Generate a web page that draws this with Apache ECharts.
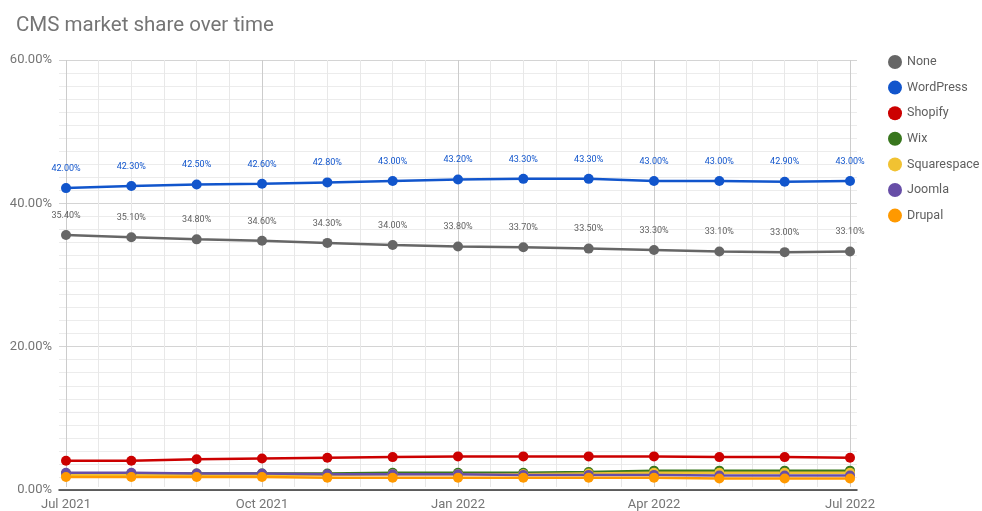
<!DOCTYPE html>
<html>
<head>
<meta charset="utf-8">
<script src="https://cdn.jsdelivr.net/npm/echarts@6/dist/echarts.min.js"></script>
<style>
html,body{margin:0;padding:0;background:#fff;}
#chart{width:982px;height:511px;}
</style>
</head>
<body>
<div id="chart"></div>
<script>
const months = ['Jul 2021','Aug 2021','Sep 2021','Oct 2021','Nov 2021','Dec 2021','Jan 2022','Feb 2022','Mar 2022','Apr 2022','May 2022','Jun 2022','Jul 2022'];
const tickLabels = {0:'Jul 2021',3:'Oct 2021',6:'Jan 2022',9:'Apr 2022',12:'Jul 2022'};
const yTicks = [0, 20, 40, 60];

const seriesNames = ['None','WordPress','Shopify','Wix','Squarespace','Joomla','Drupal'];
const none        = [35.4,35.1,34.8,34.6,34.3,34.0,33.8,33.7,33.5,33.3,33.1,33.0,33.1];
const wordpress   = [42.0,42.3,42.5,42.6,42.8,43.0,43.2,43.3,43.3,43.0,43.0,42.9,43.0];
const shopify     = [3.7,3.7,3.9,4.0,4.1,4.2,4.3,4.3,4.3,4.3,4.2,4.2,4.1];
const wix         = [1.9,1.9,1.9,1.9,1.9,2.0,2.0,2.0,2.1,2.3,2.3,2.3,2.3];
const squarespace = [1.7,1.7,1.7,1.7,1.7,1.8,1.8,1.8,1.9,2.0,2.0,2.0,2.0];
const joomla      = [2.0,2.0,1.9,1.9,1.8,1.8,1.8,1.7,1.7,1.7,1.6,1.6,1.6];
const drupal      = [1.4,1.4,1.4,1.4,1.3,1.3,1.3,1.3,1.3,1.3,1.2,1.2,1.2];
const values = [none, wordpress, shopify, wix, squarespace, joomla, drupal];
const colors = ['#666666','#1155cc','#cc0000','#38761d','#f1c232','#674ea7','#ff9900'];
const labelled = {None:true, WordPress:true};

const FONT = 'Roboto, "Noto Sans", sans-serif';
const chart = echarts.init(document.getElementById('chart'), null, {renderer:'canvas'});

const series = seriesNames.map((name, si) => ({
  name,
  type: 'line',
  xAxisIndex: 1,
  yAxisIndex: 1,
  data: values[si].map((v, i) => [i, v]),
  symbol: 'circle',
  symbolSize: 10,
  itemStyle: {color: colors[si]},
  lineStyle: {width: 2.5, color: colors[si]},
  emphasis: {disabled: true},
  label: {
    show: !!labelled[name],
    position: 'top',
    distance: 10,
    fontSize: 9,
    fontFamily: FONT,
    color: name === 'WordPress' ? '#1155cc' : '#616161',
    formatter: p => p.value[1].toFixed(2) + '%'
  },
  animation: false
}));

chart.setOption({
  animation: false,
  color: colors,
  title: {
    text: 'CMS market share over time',
    left: 11, top: 10,
    textStyle: {fontFamily: FONT, fontSize: 20.5, fontWeight: 'normal', color: '#757575'}
  },
  legend: {
    orient: 'vertical',
    left: 883, top: 50,
    icon: 'circle',
    itemWidth: 14, itemHeight: 14, itemGap: 11.6,
    textStyle: {fontFamily: FONT, fontSize: 12.5, color: '#5f5f5f'},
    data: seriesNames
  },
  grid: [
    {left: 59, right: 125, top: 60, bottom: 21},
    {left: 66, right: 132, top: 60, bottom: 21}
  ],
  xAxis: [
    {
      gridIndex: 0, type: 'value', min: 0, max: 1,
      axisLine: {show: true, lineStyle: {color: '#333333', width: 1.5}},
      axisTick: {show: false}, axisLabel: {show: false}, splitLine: {show: false}
    },
    {
      gridIndex: 1, type: 'value', min: 0, max: 12, interval: 0.5,
      axisLine: {show: false}, axisTick: {show: false},
      axisLabel: {
        fontFamily: FONT, fontSize: 13, color: '#757575', margin: 11,
        formatter: v => tickLabels[v] || ''
      },
      splitLine: {show: true, lineStyle: {width: 1, color: ['#cccccc','#e8e8e8','#e8e8e8','#e8e8e8','#e8e8e8','#e8e8e8']}}
    }
  ],
  yAxis: [
    {
      gridIndex: 0, type: 'value', min: yTicks[0], max: yTicks[yTicks.length-1], interval: 20,
      axisLine: {show: false}, axisTick: {show: false},
      axisLabel: {fontFamily: FONT, fontSize: 13, color: '#757575', margin: 7, formatter: v => v.toFixed(2) + '%'},
      splitLine: {show: true, lineStyle: {color: '#d4d4d4', width: 1}},
      minorTick: {show: false, splitNumber: 11},
      minorSplitLine: {show: true, lineStyle: {color: '#ececec', width: 1}}
    },
    {
      gridIndex: 1, type: 'value', min: 0, max: 60, show: false
    }
  ],
  series
});
</script>
</body>
</html>
